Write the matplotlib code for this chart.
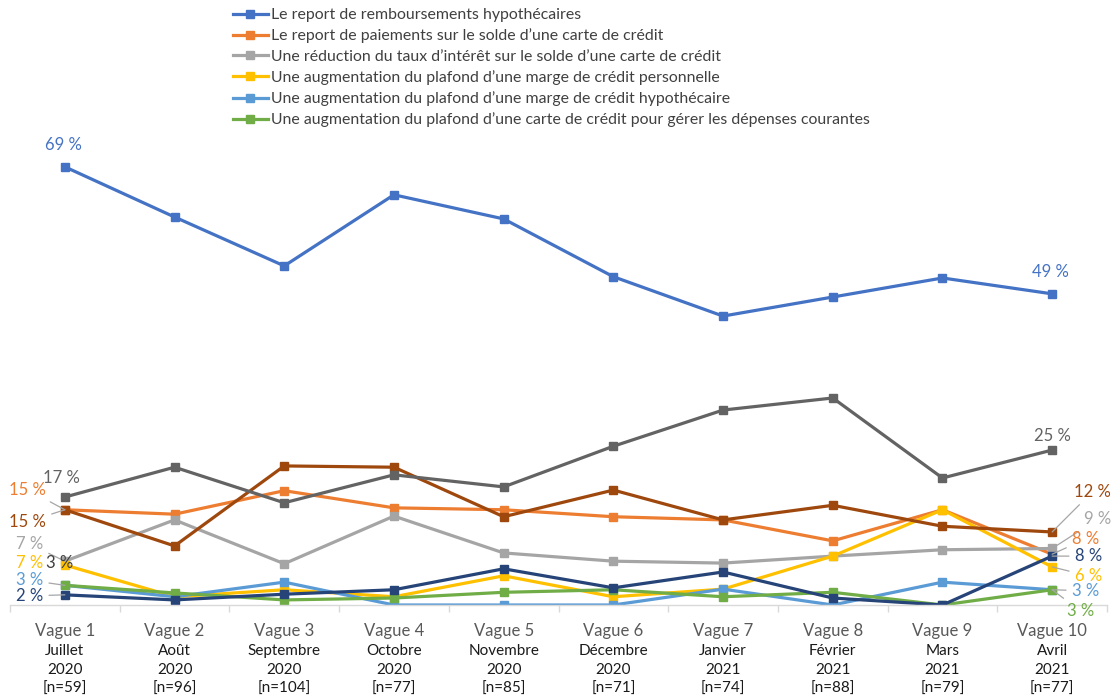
import matplotlib.pyplot as plt
from matplotlib.transforms import blended_transform_factory

plt.rcParams['font.family'] = ['Lato', 'DejaVu Sans']

vagues = ["Vague 1", "Vague 2", "Vague 3", "Vague 4", "Vague 5",
          "Vague 6", "Vague 7", "Vague 8", "Vague 9", "Vague 10"]
mois = ["Juillet", "Août", "Septembre", "Octobre", "Novembre",
        "Décembre", "Janvier", "Février", "Mars", "Avril"]
annees = ["2020", "2020", "2020", "2020", "2020", "2020", "2021", "2021", "2021", "2021"]
effectifs = ["[n=59]", "[n=96]", "[n=104]", "[n=77]", "[n=85]",
             "[n=71]", "[n=74]", "[n=88]", "[n=79]", "[n=77]"]

labels = [
    "Le report de remboursements hypothécaires",
    "Le report de paiements sur le solde d\u2019une carte de crédit",
    "Une réduction du taux d\u2019intérêt sur le solde d\u2019une carte de crédit",
    "Une augmentation du plafond d\u2019une marge de crédit personnelle",
    "Une augmentation du plafond d\u2019une marge de crédit hypothécaire",
    "Une augmentation du plafond d\u2019une carte de crédit pour gérer les dépenses courantes",
]

report_hypo = [69.0, 61.1, 53.4, 64.6, 60.8, 51.7, 45.5, 48.5, 51.5, 49.0]
report_carte = [15.0, 14.3, 18.0, 15.3, 15.0, 13.9, 13.4, 10.1, 15.0, 8.0]
reduction_taux = [6.9, 13.4, 6.5, 14.0, 8.2, 6.9, 6.6, 7.7, 8.7, 8.9]
marge_perso = [6.3, 1.3, 2.4, 1.3, 4.6, 1.3, 2.5, 7.7, 15.0, 6.0]
marge_hypo = [3.1, 1.3, 3.6, 0.0, 0.0, 0.0, 2.5, 0.0, 3.6, 2.4]
carte_depenses = [3.1, 1.9, 0.8, 1.1, 2.0, 2.4, 1.3, 2.0, 0.0, 2.4]
serie_7 = [1.6, 0.8, 1.7, 2.4, 5.7, 2.7, 5.2, 1.1, 0.0, 7.7]
serie_8 = [15.0, 9.3, 21.9, 21.7, 13.9, 18.1, 13.4, 15.7, 12.4, 11.5]
serie_9 = [17.0, 21.7, 16.1, 20.5, 18.6, 25.0, 30.7, 32.6, 20.0, 24.4]

series = [report_hypo, report_carte, reduction_taux, marge_perso, marge_hypo,
          carte_depenses, serie_7, serie_8, serie_9]
colors = ["#4472C4", "#ED7D31", "#A5A5A5", "#FFC000", "#5B9BD5", "#70AD47",
          "#264478", "#9E480E", "#636363"]

# data labels: (series index, point index, text, dx px, dy px, leader, color override)
data_labels = [
    (0, 0, "69 %", -1, 22, False, None),
    (8, 0, "17 %", -3, 19, False, None),
    (1, 0, "15 %", -37, 20, True, None),
    (7, 0, "15 %", -37, -12, True, None),
    (2, 0, "7 %", -35, 17, True, None),
    (3, 0, "7 %", -35, 2, False, None),
    (4, 0, "3 %", -35, 5, True, None),
    (6, 0, "2 %", -35, -1, True, None),
    (2, 0, "3 %", -5, -2, False, "#404040"),
    (0, 9, "49 %", -2, 22, False, None),
    (8, 9, "25 %", 0, 14, False, None),
    (7, 9, "12 %", 40, 40, True, None),
    (2, 9, "9 %", 45, 29, True, None),
    (1, 9, "8 %", 33, 15, True, None),
    (6, 9, "8 %", 36, 0, True, None),
    (3, 9, "6 %", 36, -9, True, None),
    (4, 9, "3 %", 33, -1, True, None),
    (5, 9, "3 %", 28, -21, True, None),
]

fig = plt.figure(figsize=(11.15, 7.0), dpi=100)
ax = fig.add_axes([10 / 1115, 95 / 700, 1097 / 1115, 508 / 700])
x = list(range(len(vagues)))

handles = []
for vals, c in zip(series, colors):
    h, = ax.plot(x, vals, color=c, lw=2.3, marker="s", markersize=5.5,
                 solid_joinstyle="miter")
    handles.append(h)

ax.set_xlim(-0.5, len(vagues) - 0.5)
ax.set_ylim(0, 80)
ax.set_yticks([])
for s in ["top", "left", "right"]:
    ax.spines[s].set_visible(False)
ax.spines["bottom"].set_color("#D9D9D9")
ax.spines["bottom"].set_linewidth(1.0)

ax.set_xticks(x)
ax.set_xticklabels(vagues, fontsize=12, color="#595959")
ax.tick_params(axis="x", which="major", length=0, pad=13)
ax.set_xticks([i + 0.5 for i in x[:-1]] + [-0.5, len(vagues) - 0.5], minor=True)
ax.tick_params(axis="x", which="minor", length=5, color="#D9D9D9", width=1)

trans = blended_transform_factory(ax.transData, ax.transAxes)
for i in x:
    for txt, dy in [(mois[i], -46), (annees[i], -65), (effectifs[i], -84)]:
        ax.annotate(txt, xy=(i, 0), xycoords=trans, xytext=(0, dy * 0.72),
                    textcoords="offset points", ha="center", va="center",
                    fontsize=11, color="#1a1a1a")

for si, pi, txt, dx, dy, leader, col in data_labels:
    color = col if col else colors[si]
    kw = {}
    if leader:
        kw["arrowprops"] = dict(arrowstyle="-", color="#A6A6A6", lw=0.9,
                                shrinkA=2, shrinkB=0)
    ax.annotate(txt, xy=(pi, series[si][pi]), xytext=(dx * 0.72, dy * 0.72),
                textcoords="offset points", ha="center", va="center",
                fontsize=12, color=color, **kw)

fig.legend(handles[:6], labels, loc="upper left",
           bbox_to_anchor=(222 / 1115, 1 + 3 / 700), frameon=False,
           fontsize=11.4, handlelength=2.2, handletextpad=0.2,
           labelspacing=0.4, borderpad=0.2, labelcolor="#404040")

fig.savefig("out.png", dpi=100)
